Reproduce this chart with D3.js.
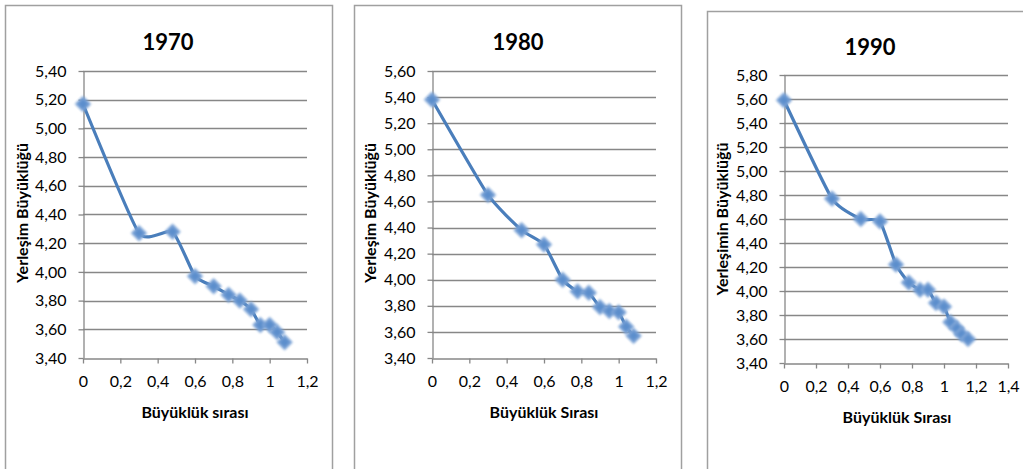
<!DOCTYPE html>
<html><head><meta charset="utf-8">
<script src="https://cdn.jsdelivr.net/npm/d3@7"></script>
<style>
html,body{margin:0;padding:0;background:#fff;}
svg{display:block;font-family:Lato,"Open Sans",sans-serif;}
</style></head>
<body>
<svg id="c" width="1023" height="469"></svg>
<script>
// ---- data ----
const titles = ["1970", "1980", "1990"];
const xTitles = ["Büyüklük sırası", "Büyüklük Sırası", "Büyüklük Sırası"];
const yTitles = ["Yerleşim Büyüklüğü", "Yerleşim Büyüklüğü", "Yerleşimin Büyüklüğü"];

const rankLog1970 = [0, 0.30, 0.48, 0.60, 0.70, 0.78, 0.84, 0.90, 0.95, 1.00, 1.04, 1.08];
const size1970    = [5.17, 4.27, 4.28, 3.97, 3.90, 3.84, 3.80, 3.74, 3.63, 3.63, 3.58, 3.51];

const rankLog1980 = [0, 0.30, 0.48, 0.60, 0.70, 0.78, 0.84, 0.90, 0.95, 1.00, 1.04, 1.08];
const size1980    = [5.38, 4.65, 4.38, 4.27, 4.00, 3.91, 3.90, 3.79, 3.76, 3.75, 3.64, 3.57];

const rankLog1990 = [0, 0.30, 0.48, 0.60, 0.70, 0.78, 0.85, 0.90, 0.95, 1.00, 1.04, 1.08, 1.11, 1.15];
const size1990    = [5.59, 4.77, 4.60, 4.58, 4.22, 4.07, 4.01, 4.01, 3.90, 3.87, 3.74, 3.69, 3.64, 3.60];

const yTicks1970 = [3.4, 3.6, 3.8, 4.0, 4.2, 4.4, 4.6, 4.8, 5.0, 5.2, 5.4];
const yTicks1980 = [3.4, 3.6, 3.8, 4.0, 4.2, 4.4, 4.6, 4.8, 5.0, 5.2, 5.4, 5.6];
const yTicks1990 = [3.4, 3.6, 3.8, 4.0, 4.2, 4.4, 4.6, 4.8, 5.0, 5.2, 5.4, 5.6, 5.8];
const xTicks12 = [0, 0.2, 0.4, 0.6, 0.8, 1.0, 1.2];
const xTicks14 = [0, 0.2, 0.4, 0.6, 0.8, 1.0, 1.2, 1.4];

// ---- layout ----
const panels = [
  {title: titles[0], xt: xTitles[0], yt: yTitles[0], xs: rankLog1970, ys: size1970, yTicks: yTicks1970, xTicks: xTicks12,
   box: [5, 5, 332, 490], plot: [83, 307, 71, 358], titlePos: [168, 42], xtPos: [195, 412], ytPos: [22, 213]},
  {title: titles[1], xt: xTitles[1], yt: yTitles[1], xs: rankLog1980, ys: size1980, yTicks: yTicks1980, xTicks: xTicks12,
   box: [354, 5, 681, 490], plot: [432, 656, 71, 358], titlePos: [518, 42], xtPos: [544, 412], ytPos: [370, 213]},
  {title: titles[2], xt: xTitles[2], yt: yTitles[2], xs: rankLog1990, ys: size1990, yTicks: yTicks1990, xTicks: xTicks14,
   box: [707, 11, 1040, 490], plot: [784, 1008, 75, 363], titlePos: [870, 47], xtPos: [897, 417], ytPos: [722, 219]}
];

const svg = d3.select("#c");
const defs = svg.append("defs");
defs.append("filter").attr("id", "blur").attr("x", "-50%").attr("y", "-50%").attr("width", "200%").attr("height", "200%")
  .append("feGaussianBlur").attr("stdDeviation", 1.0);

const gridCol = "#878787";
const blue = "#4a7ebb";
const fmtY = d => d3.format(".2f")(d).replace(".", ",");
const fmtX = d => String(+d.toFixed(1)).replace(".", ",");

panels.forEach(p => {
  const [bl, bt, br, bb] = p.box;
  svg.append("rect").attr("x", bl + 0.5).attr("y", bt + 0.5).attr("width", br - bl).attr("height", bb - bt)
    .attr("fill", "#fff").attr("stroke", "#a0a0a0").attr("stroke-width", 1.5);

  const [x0, x1, yT, yB] = p.plot;
  const x = d3.scaleLinear().domain([p.xTicks[0], p.xTicks[p.xTicks.length - 1]]).range([x0, x1]);
  const y = d3.scaleLinear().domain([p.yTicks[0], p.yTicks[p.yTicks.length - 1]]).range([yB, yT]);

  const g = svg.append("g");
  g.selectAll("line.grid").data(p.yTicks.slice(1)).join("line")
    .attr("x1", x0).attr("x2", x1)
    .attr("y1", d => Math.round(y(d)) + 0.5).attr("y2", d => Math.round(y(d)) + 0.5)
    .attr("stroke", gridCol).attr("stroke-width", 1.3);

  const ya = g.append("g").attr("transform", `translate(${x0 + 0.5},0)`)
    .call(d3.axisLeft(y).tickValues(p.yTicks).tickFormat(fmtY).tickSize(5).tickSizeOuter(0).tickPadding(12));
  const xa = g.append("g").attr("transform", `translate(0,${yB + 0.5})`)
    .call(d3.axisBottom(x).tickValues(p.xTicks).tickFormat(fmtX).tickSize(5).tickSizeOuter(0).tickPadding(12));
  [ya, xa].forEach(a => {
    a.select(".domain").attr("stroke", gridCol).attr("stroke-width", 1.3);
    a.selectAll(".tick line").attr("stroke", gridCol).attr("stroke-width", 1.3);
    a.selectAll(".tick text").attr("fill", "#000").style("font-size", "16px").style("font-family", "Lato, sans-serif");
  });

  const pts = p.xs.map((v, i) => [x(v), y(p.ys[i])]);
  g.append("path").attr("d", d3.line().curve(d3.curveCardinal.tension(0.5))(pts))
    .attr("fill", "none").attr("stroke", blue).attr("stroke-width", 3.2).attr("stroke-linejoin", "round");
  g.selectAll("path.m").data(pts).join("path")
    .attr("transform", d => `translate(${d[0]},${d[1]}) rotate(45)`)
    .attr("d", d3.symbol(d3.symbolSquare, 85)())
    .attr("fill", "#5b8ecc").attr("stroke", "#7ba3d6").attr("stroke-width", 2.4).attr("filter", "url(#blur)");

  svg.append("text").attr("x", p.titlePos[0]).attr("y", p.titlePos[1]).attr("dy", "0.35em")
    .attr("text-anchor", "middle").style("font-size", "22px").style("font-weight", "bold").text(p.title);
  svg.append("text").attr("x", p.xtPos[0]).attr("y", p.xtPos[1]).attr("dy", "0.35em")
    .attr("text-anchor", "middle").style("font-size", "16px").style("font-weight", "bold").text(p.xt);
  svg.append("text").attr("transform", `translate(${p.ytPos[0]},${p.ytPos[1]}) rotate(-90)`).attr("dy", "0.35em")
    .attr("text-anchor", "middle").style("font-size", "16px").style("font-weight", "bold").text(p.yt);
});
</script>
</body></html>
